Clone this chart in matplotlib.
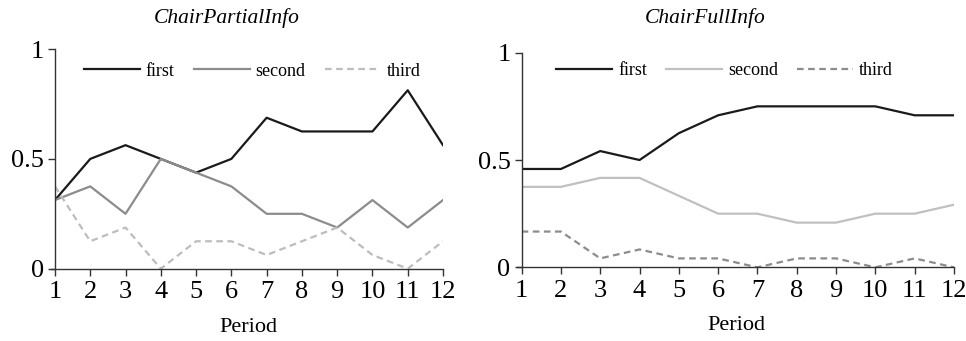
import matplotlib
matplotlib.use("Agg")
import matplotlib.pyplot as plt

periods = list(range(1, 13))
period_labels = [str(p) for p in periods]

partial_first = [0.3125, 0.5, 0.5625, 0.5, 0.4375, 0.5, 0.6875, 0.625, 0.625, 0.625, 0.8125, 0.5625]
partial_second = [0.3125, 0.375, 0.25, 0.5, 0.4375, 0.375, 0.25, 0.25, 0.1875, 0.3125, 0.1875, 0.3125]
partial_third = [0.375, 0.125, 0.1875, 0.0, 0.125, 0.125, 0.0625, 0.125, 0.1875, 0.0625, 0.0, 0.125]

full_first = [0.4583, 0.4583, 0.5417, 0.5, 0.625, 0.7083, 0.75, 0.75, 0.75, 0.75, 0.7083, 0.7083]
full_second = [0.375, 0.375, 0.4167, 0.4167, 0.3333, 0.25, 0.25, 0.2083, 0.2083, 0.25, 0.25, 0.2917]
full_third = [0.1667, 0.1667, 0.0417, 0.0833, 0.0417, 0.0417, 0.0, 0.0417, 0.0417, 0.0, 0.0417, 0.0]

series_names = ["first", "second", "third"]
y_ticks = [0, 0.5, 1]
y_tick_labels = ["0", "0.5", "1"]

plt.rcParams['font.family'] = ['Liberation Serif', 'DejaVu Serif']

fig = plt.figure(figsize=(9.66, 3.41), dpi=100)
ax1 = fig.add_axes([0.0569, 0.212, 0.4017, 0.644])
ax2 = fig.add_axes([0.540, 0.216, 0.4475, 0.6295])

dash = (0, (3, 2))
spine_col = "#333333"

def style(ax, title, tx, ty, lx, ly, legx, legy):
    ax.set_xlim(1, 12)
    ax.set_ylim(0, 1)
    ax.set_xticks(periods)
    ax.set_xticklabels(period_labels, fontsize=19)
    ax.set_yticks(y_ticks)
    ax.set_yticklabels(y_tick_labels, fontsize=19)
    for s in ["top", "right"]:
        ax.spines[s].set_visible(False)
    for s in ["left", "bottom"]:
        ax.spines[s].set_color(spine_col)
        ax.spines[s].set_linewidth(1.0)
    ax.tick_params(axis="both", direction="out", length=5, width=1.0, color=spine_col, pad=3)
    ax.tick_params(axis="x", pad=4)
    ax.spines["bottom"].set_bounds(1 - 11 * 0.01, 12)
    ax.spines["bottom"].set_clip_on(False)
    fig.text(tx, ty, title, fontsize=15.5, style="italic", ha="center", va="center")
    fig.text(lx, ly, "Period", fontsize=16, ha="center", va="center")
    ax.legend(loc="center", bbox_to_anchor=(legx, legy), ncol=3, frameon=False,
              fontsize=13, handlelength=3.1, handletextpad=0.33, columnspacing=1.05)

ax1.plot(periods, partial_first, color="#1a1a1a", lw=1.6, label=series_names[0])
ax1.plot(periods, partial_second, color="#8c8c8c", lw=1.6, label=series_names[1])
ax1.plot(periods, partial_third, color="#bdbdbd", lw=1.6, linestyle=dash, label=series_names[2])
style(ax1, "ChairPartialInfo", 227 / 966, 1 - 18 / 341, 248 / 966, 1 - 328 / 341, 0.508, 0.90)

ax2.plot(periods, full_first, color="#1a1a1a", lw=1.6, label=series_names[0])
ax2.plot(periods, full_second, color="#c0c0c0", lw=1.6, label=series_names[1])
ax2.plot(periods, full_third, color="#8c8c8c", lw=1.6, linestyle=dash, label=series_names[2])
style(ax2, "ChairFullInfo", 705 / 966, 1 - 18 / 341, 736 / 966, 1 - 325 / 341, 0.469, 0.915)

fig.savefig("out.png", dpi=100)
